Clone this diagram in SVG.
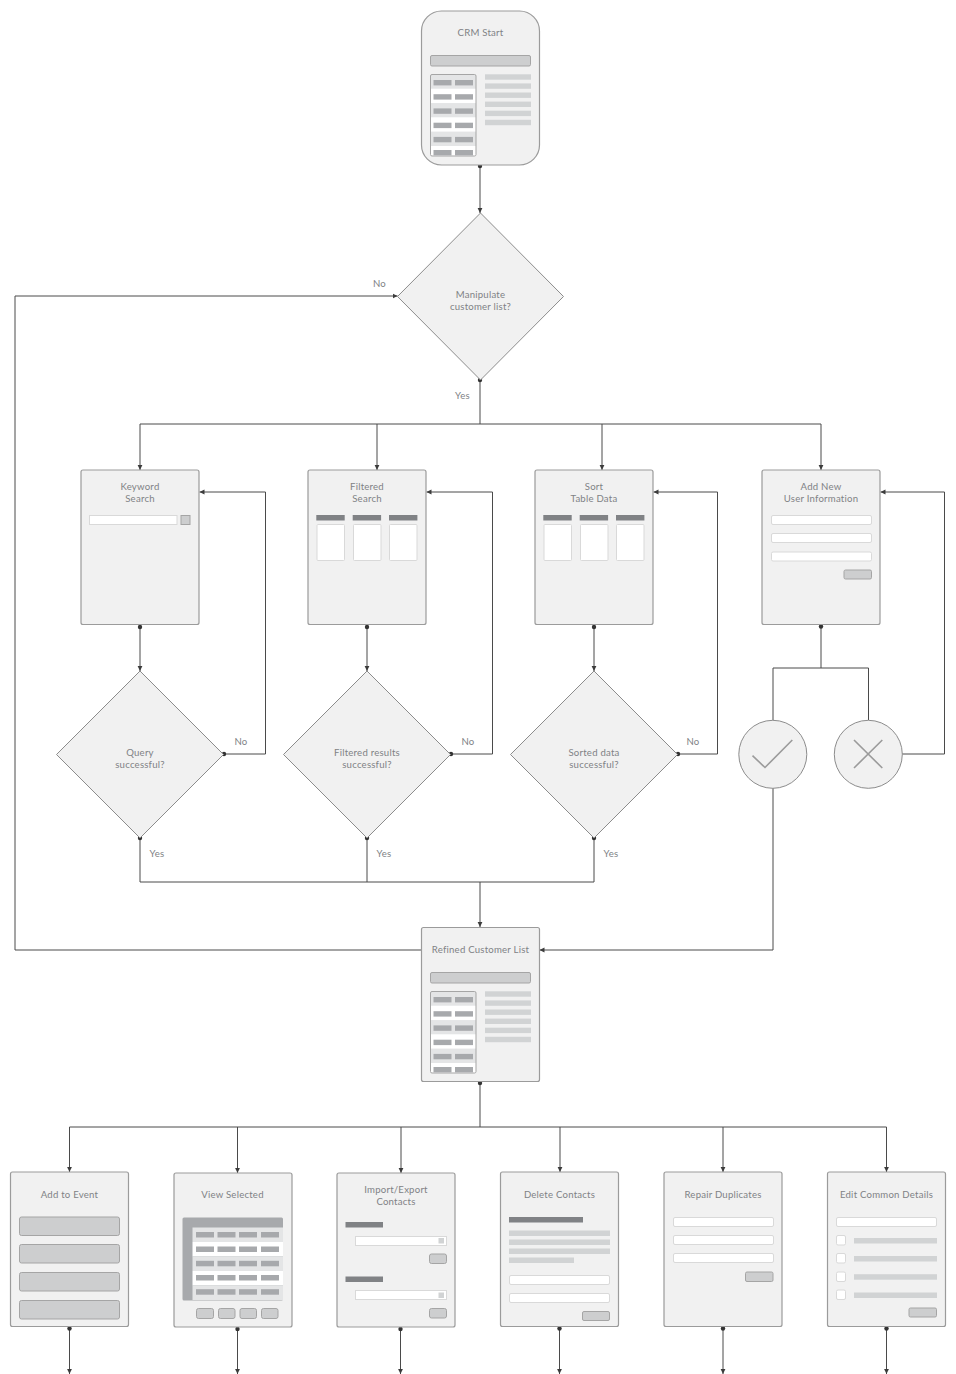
<svg xmlns="http://www.w3.org/2000/svg" width="956" height="1374" viewBox="0 0 956 1374">
<style>
.card{fill:#f1f1f1;stroke:#9b9b9b;stroke-width:1.2}
.dia{fill:#f1f1f1;stroke:#8c8c8c;stroke-width:1}
.t{font-family:Lato,"Open Sans",sans-serif;font-size:9.6px;letter-spacing:.22px;fill:#808285;text-anchor:middle}
.c{fill:none;stroke:#4a4a4a;stroke-width:1}
.ca{fill:none;stroke:#4a4a4a;stroke-width:1;marker-end:url(#arrow)}
.cd{fill:none;stroke:#4a4a4a;stroke-width:1;marker-start:url(#dot)}
.cda{fill:none;stroke:#4a4a4a;stroke-width:1;marker-start:url(#dot);marker-end:url(#arrow)}
.inp{fill:#fff;stroke:#d9d9d9;stroke-width:1}
.btn{fill:#cdcecf;stroke:#a5a5a5;stroke-width:1}
.hd{fill:#808285}
.ln{fill:#d1d3d4}
.cell{fill:#a7a9ac}
.dk{fill:#a7a9ac}
.rowa{fill:#e4e5e6}
.rowb{fill:#fff}
.sq{fill:#d1d3d4}
.mk{fill:none;stroke:#9b9b9b;stroke-width:1.6}
</style>
<defs>
<marker id="arrow" markerUnits="userSpaceOnUse" markerWidth="6" markerHeight="6" refX="5" refY="3" orient="auto"><path d="M0,0.6L5,3L0,5.4Z" fill="#3c3c3c"/></marker>
<marker id="dot" markerUnits="userSpaceOnUse" markerWidth="6" markerHeight="6" refX="3" refY="3"><circle cx="3" cy="3" r="2.2" fill="#333"/></marker>
<g id="listpanel">
<rect x="430.5" y="55.5" width="100" height="10.5" rx="1.5" class="btn"/>
<rect x="431" y="74.5" width="45" height="14.3" class="rowa"/>
<rect x="431" y="88.8" width="45" height="14.3" class="rowb"/>
<rect x="431" y="103.1" width="45" height="14.3" class="rowa"/>
<rect x="431" y="117.4" width="45" height="14.3" class="rowb"/>
<rect x="431" y="131.7" width="45" height="14.3" class="rowa"/>
<rect x="431" y="146" width="45" height="10" class="rowb"/>
<rect x="430.5" y="74.5" width="45.5" height="81.5" rx="1.5" fill="none" stroke="#a5a5a5"/>
<rect x="433.5" y="80" width="18" height="5.4" class="cell"/><rect x="455" y="80" width="18" height="5.4" class="cell"/>
<rect x="433.5" y="94.2" width="18" height="5.4" class="cell"/><rect x="455" y="94.2" width="18" height="5.4" class="cell"/>
<rect x="433.5" y="108.4" width="18" height="5.4" class="cell"/><rect x="455" y="108.4" width="18" height="5.4" class="cell"/>
<rect x="433.5" y="122.7" width="18" height="5.4" class="cell"/><rect x="455" y="122.7" width="18" height="5.4" class="cell"/>
<rect x="433.5" y="136.9" width="18" height="5.4" class="cell"/><rect x="455" y="136.9" width="18" height="5.4" class="cell"/>
<rect x="433.5" y="150" width="18" height="5.4" class="cell"/><rect x="455" y="150" width="18" height="5.4" class="cell"/>
<rect x="485" y="74.3" width="46" height="5.4" class="ln"/>
<rect x="485" y="83.4" width="46" height="5.4" class="ln"/>
<rect x="485" y="92.5" width="46" height="5.4" class="ln"/>
<rect x="485" y="101.6" width="46" height="5.4" class="ln"/>
<rect x="485" y="110.7" width="46" height="5.4" class="ln"/>
<rect x="485" y="119.8" width="46" height="5.4" class="ln"/>
</g>
<g id="cols">
<rect x="316.3" y="515" width="28.4" height="5.5" class="hd"/><rect x="352.7" y="515" width="28.4" height="5.5" class="hd"/><rect x="389" y="515" width="28.4" height="5.5" class="hd"/>
<rect x="317" y="524.5" width="27.5" height="36" rx="1" class="inp"/><rect x="353.5" y="524.5" width="27.5" height="36" rx="1" class="inp"/><rect x="389.5" y="524.5" width="27.5" height="36" rx="1" class="inp"/>
</g>
</defs>

<g id="connectors">
<path class="cda" d="M480,166V213"/>
<path class="cd" d="M480,380V424"/>
<path class="ca" d="M140,424V470"/>
<path class="ca" d="M377,424V470"/>
<path class="ca" d="M602,424V470"/>
<path class="ca" d="M140,424H821V470"/>
<path class="ca" d="M421,950H15V296H397.5"/>
<path class="cda" d="M140,627V671"/>
<path class="cda" d="M367,627V671"/>
<path class="cda" d="M594,627V671"/>
<path class="cda" d="M224,754H265.500V492H199.500"/>
<path class="cda" d="M451,754H492.500V492H426.500"/>
<path class="cda" d="M678,754H717.500V492H653.500"/>
<path class="cd" d="M140,838V882H594V838"/>
<circle cx="594" cy="838" r="2.200" fill="#333"/>
<path class="cd" d="M367,838V882"/>
<path class="ca" d="M480,882V927"/>
<path class="cd" d="M821,626.500V668"/>
<path class="c" d="M773,720V668H868.500V720"/>
<path class="ca" d="M902,754H944.500V492H880.500"/>
<path class="ca" d="M773,788V950H539.500"/>
<path class="cd" d="M480,1083V1127"/>
<path class="ca" d="M69.500,1127H886.500V1172"/>
<path class="ca" d="M69.500,1127V1172"/>
<path class="ca" d="M237.500,1127V1173"/>
<path class="ca" d="M401,1127V1173"/>
<path class="ca" d="M560,1127V1172"/>
<path class="ca" d="M723,1127V1172"/>
<path class="cda" d="M69.500,1328.500V1374"/>
<path class="cda" d="M237.500,1329V1374"/>
<path class="cda" d="M400.500,1329V1374"/>
<path class="cda" d="M559.500,1328.500V1374"/>
<path class="cda" d="M723,1328.500V1374"/>
<path class="cda" d="M886.500,1328.500V1374"/>
</g>

<g id="labels">
<text class="t" x="379.500" y="287">No</text>
<text class="t" x="462.500" y="399">Yes</text>
<text class="t" x="241" y="745">No</text>
<text class="t" x="468" y="745">No</text>
<text class="t" x="693" y="745">No</text>
<text class="t" x="157" y="857">Yes</text>
<text class="t" x="384" y="857">Yes</text>
<text class="t" x="611" y="857">Yes</text>
</g>

<g id="crm-start">
<rect class="card" x="421.500" y="11" width="118" height="154" rx="20"/>
<text class="t" x="480.500" y="36">CRM Start</text>
<use href="#listpanel"/>
</g>

<g id="manipulate">
<path class="dia" d="M480.500,213L563.500,296.500L480.500,380L397.500,296.500Z"/>
<text class="t" x="480.500" y="298">Manipulate</text>
<text class="t" x="480.500" y="309.500">customer list?</text>
</g>

<g id="keyword-search">
<rect class="card" x="81" y="470" width="118" height="154.500" rx="2"/>
<text class="t" x="140" y="490">Keyword</text>
<text class="t" x="140" y="501.500">Search</text>
<rect class="inp" x="89.500" y="515.500" width="87.500" height="9"/>
<rect class="btn" x="181" y="515.500" width="9" height="9"/>
</g>

<g id="filtered-search">
<rect class="card" x="308" y="470" width="118" height="154.500" rx="2"/>
<text class="t" x="367" y="490">Filtered</text>
<text class="t" x="367" y="501.500">Search</text>
<use href="#cols"/>
</g>

<g id="sort-table">
<rect class="card" x="535" y="470" width="118" height="154.500" rx="2"/>
<text class="t" x="594" y="490">Sort</text>
<text class="t" x="594" y="501.500">Table Data</text>
<use href="#cols" x="227"/>
</g>

<g id="add-user">
<rect class="card" x="762" y="470" width="118" height="154.500" rx="2"/>
<text class="t" x="821" y="490">Add New</text>
<text class="t" x="821" y="501.500">User Information</text>
<rect class="inp" x="771.500" y="515.500" width="100" height="9" rx="1.500"/>
<rect class="inp" x="771.500" y="533.500" width="100" height="9" rx="1.500"/>
<rect class="inp" x="771.500" y="552" width="100" height="9" rx="1.500"/>
<rect class="btn" x="844" y="570" width="27.500" height="9" rx="1.500"/>
</g>

<g id="query-successful">
<path class="dia" d="M140,671L223.500,754.500L140,838L56.500,754.500Z"/>
<text class="t" x="140" y="756">Query</text>
<text class="t" x="140" y="767.500">successful?</text>
</g>

<g id="filtered-successful">
<path class="dia" d="M367,671L450.500,754.500L367,838L283.500,754.500Z"/>
<text class="t" x="367" y="756">Filtered results</text>
<text class="t" x="367" y="767.500">successful?</text>
</g>

<g id="sorted-successful">
<path class="dia" d="M594,671L677.500,754.500L594,838L510.500,754.500Z"/>
<text class="t" x="594" y="756">Sorted data</text>
<text class="t" x="594" y="767.500">successful?</text>
</g>

<g id="accept">
<circle class="dia" cx="772.800" cy="754.300" r="34"/>
<path class="mk" d="M752.500,755.700L765,767.500L792.300,740"/>
</g>

<g id="reject">
<circle class="dia" cx="868.300" cy="754.300" r="34"/>
<path class="mk" d="M854,740L882.300,768M882.300,740L854,768"/>
</g>

<g id="refined-list">
<rect class="card" x="421.500" y="927.500" width="118" height="154" rx="2"/>
<text class="t" x="480.500" y="953">Refined Customer List</text>
<use href="#listpanel" y="917"/>
</g>

<g id="add-to-event">
<rect class="card" x="10.500" y="1172" width="118" height="154.500" rx="2"/>
<text class="t" x="69.500" y="1198">Add to Event</text>
<rect class="btn" x="19.500" y="1217" width="100" height="18.500" rx="2"/>
<rect class="btn" x="19.500" y="1244.500" width="100" height="18.500" rx="2"/>
<rect class="btn" x="19.500" y="1272.500" width="100" height="18.500" rx="2"/>
<rect class="btn" x="19.500" y="1300.500" width="100" height="18.500" rx="2"/>
</g>

<g id="view-selected">
<rect class="card" x="174" y="1173" width="118" height="154" rx="2"/>
<text class="t" x="232.500" y="1198">View Selected</text>
<rect class="dk" x="182.500" y="1217.500" width="100.500" height="83" rx="1.500"/>
<rect class="rowa" x="192.500" y="1227.500" width="90.500" height="14.500"/>
<rect class="rowb" x="192.500" y="1242" width="90.500" height="14.500"/>
<rect class="rowa" x="192.500" y="1256.500" width="90.500" height="14.500"/>
<rect class="rowb" x="192.500" y="1271" width="90.500" height="14.500"/>
<rect class="rowa" x="192.500" y="1285.500" width="90.500" height="14.500"/>
<g class="cell">
<rect x="196" y="1232" width="18" height="5.500"/><rect x="217.500" y="1232" width="18" height="5.500"/><rect x="239" y="1232" width="18" height="5.500"/><rect x="261" y="1232" width="18" height="5.500"/>
<rect x="196" y="1246.500" width="18" height="5.500"/><rect x="217.500" y="1246.500" width="18" height="5.500"/><rect x="239" y="1246.500" width="18" height="5.500"/><rect x="261" y="1246.500" width="18" height="5.500"/>
<rect x="196" y="1260.800" width="18" height="5.500"/><rect x="217.500" y="1260.800" width="18" height="5.500"/><rect x="239" y="1260.800" width="18" height="5.500"/><rect x="261" y="1260.800" width="18" height="5.500"/>
<rect x="196" y="1275" width="18" height="5.500"/><rect x="217.500" y="1275" width="18" height="5.500"/><rect x="239" y="1275" width="18" height="5.500"/><rect x="261" y="1275" width="18" height="5.500"/>
<rect x="196" y="1289.200" width="18" height="5.500"/><rect x="217.500" y="1289.200" width="18" height="5.500"/><rect x="239" y="1289.200" width="18" height="5.500"/><rect x="261" y="1289.200" width="18" height="5.500"/>
</g>
<rect class="btn" x="196.500" y="1308.500" width="17" height="10" rx="2"/>
<rect class="btn" x="218.500" y="1308.500" width="16.500" height="10" rx="2"/>
<rect class="btn" x="240" y="1308.500" width="16.500" height="10" rx="2"/>
<rect class="btn" x="261.500" y="1308.500" width="16.500" height="10" rx="2"/>
</g>

<g id="import-export">
<rect class="card" x="337" y="1173" width="118" height="154" rx="2"/>
<text class="t" x="396" y="1193">Import/Export</text>
<text class="t" x="396" y="1204.500">Contacts</text>
<rect class="hd" x="345.500" y="1222" width="37.500" height="5.500"/>
<rect class="inp" x="355.500" y="1236.500" width="91" height="9"/>
<rect class="sq" x="438.500" y="1238" width="5.500" height="5.500"/>
<rect class="btn" x="429.500" y="1254" width="17" height="9.500" rx="2"/>
<rect class="hd" x="345.500" y="1276.500" width="37.500" height="5.500"/>
<rect class="inp" x="355.500" y="1290.500" width="91" height="9"/>
<rect class="sq" x="438.500" y="1292.500" width="5.500" height="5.500"/>
<rect class="btn" x="429.500" y="1308.500" width="17" height="9.500" rx="2"/>
</g>

<g id="delete-contacts">
<rect class="card" x="500.500" y="1172" width="118" height="154.500" rx="2"/>
<text class="t" x="559.500" y="1198">Delete Contacts</text>
<rect class="hd" x="509" y="1217" width="74" height="5.500"/>
<rect class="ln" x="509" y="1230.500" width="101" height="5.500"/>
<rect class="ln" x="509" y="1239.500" width="101" height="5.500"/>
<rect class="ln" x="509" y="1248.500" width="101" height="5.500"/>
<rect class="ln" x="509" y="1257.500" width="65" height="5.500"/>
<rect class="inp" x="509.500" y="1275.500" width="100" height="9" rx="1.500"/>
<rect class="inp" x="509.500" y="1293.500" width="100" height="9" rx="1.500"/>
<rect class="btn" x="582.500" y="1311.500" width="27" height="9" rx="1.500"/>
</g>

<g id="repair-duplicates">
<rect class="card" x="664" y="1172" width="118" height="154.500" rx="2"/>
<text class="t" x="723" y="1198">Repair Duplicates</text>
<rect class="inp" x="673.500" y="1217.500" width="100" height="9" rx="1.500"/>
<rect class="inp" x="673.500" y="1235.500" width="100" height="9" rx="1.500"/>
<rect class="inp" x="673.500" y="1253.500" width="100" height="9" rx="1.500"/>
<rect class="btn" x="745.500" y="1272" width="27.500" height="9.500" rx="1.500"/>
</g>

<g id="edit-common">
<rect class="card" x="827.500" y="1172" width="118" height="154.500" rx="2"/>
<text class="t" x="886.500" y="1198">Edit Common Details</text>
<rect class="inp" x="836.500" y="1217.500" width="100" height="9" rx="1.500"/>
<rect class="inp" x="836.500" y="1235.500" width="9" height="9.500" rx="1.500"/>
<rect class="inp" x="836.500" y="1253.500" width="9" height="9.500" rx="1.500"/>
<rect class="inp" x="836.500" y="1272" width="9" height="9.500" rx="1.500"/>
<rect class="inp" x="836.500" y="1290" width="9" height="9.500" rx="1.500"/>
<rect class="ln" x="854" y="1238" width="83" height="5.500"/>
<rect class="ln" x="854" y="1256" width="83" height="5.500"/>
<rect class="ln" x="854" y="1274.200" width="83" height="5.500"/>
<rect class="ln" x="854" y="1292.500" width="83" height="5.500"/>
<rect class="btn" x="909" y="1308" width="27.500" height="9" rx="1.500"/>
</g>
</svg>
